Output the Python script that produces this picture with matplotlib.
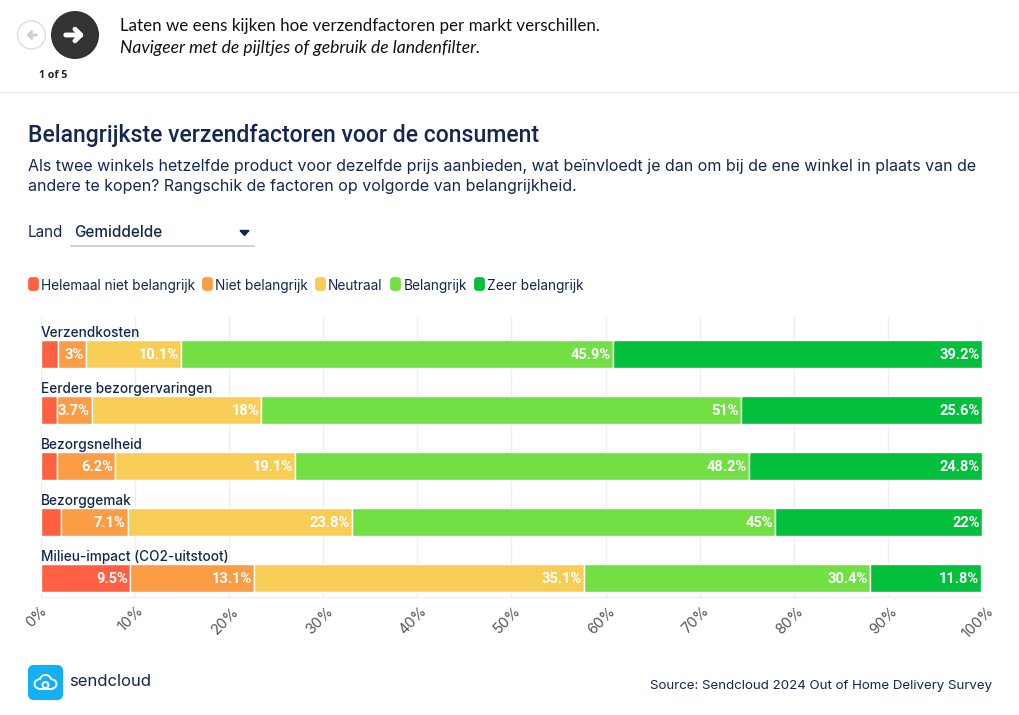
#!/usr/bin/env python3
import matplotlib
matplotlib.use('Agg')
import matplotlib.pyplot as plt
from matplotlib.patches import Arc, Circle, FancyBboxPatch
from matplotlib.transforms import ScaledTranslation
import numpy as np

categories = ['Verzendkosten', 'Eerdere bezorgervaringen', 'Bezorgsnelheid',
              'Bezorggemak', 'Milieu-impact (CO2-uitstoot)']
series_names = ['Helemaal niet belangrijk', 'Niet belangrijk', 'Neutraal',
                'Belangrijk', 'Zeer belangrijk']
helemaal_niet = [1.8, 1.7, 1.7, 2.1, 9.5]
niet = [3, 3.7, 6.2, 7.1, 13.1]
neutraal = [10.1, 18, 19.1, 23.8, 35.1]
belangrijk = [45.9, 51, 48.2, 45, 30.4]
zeer = [39.2, 25.6, 24.8, 22, 11.8]
x_ticks = [0, 10, 20, 30, 40, 50, 60, 70, 80, 90, 100]

colors = ['#ff6041', '#fb9d45', '#f8cd56', '#72e044', '#03c03c']
NAVY = '#14284f'
W, H = 1020, 715

fig = plt.figure(figsize=(W / 100, H / 100), dpi=100, facecolor='white')

# page furniture, drawn in pixel coordinates
bg = fig.add_axes([0, 0, 1, 1])
bg.set_xlim(0, W)
bg.set_ylim(H, 0)
bg.axis('off')

bg.add_patch(Circle((31.5, 35), 14, fc='white', ec='#dddddd', lw=1))
bg.annotate('', xy=(23.5, 35), xytext=(39, 35),
            arrowprops=dict(arrowstyle='->,head_width=0.24,head_length=0.24', color='#d0d0d0', lw=2.2))
bg.add_patch(Circle((75, 35), 24, fc='#333333', ec='none'))
bg.annotate('', xy=(87, 35), xytext=(63, 35),
            arrowprops=dict(arrowstyle='->,head_width=0.42,head_length=0.42', color='white', lw=3.5))
bg.text(53, 75.5, '1 of 5', fontsize=7.6, fontweight='bold', family='Open Sans',
        color='#222222', ha='center', va='center')
bg.text(120, 26, 'Laten we eens kijken hoe verzendfactoren per markt verschillen.', fontsize=12.15,
        family='Lato', color='#111111', va='center')
bg.text(120, 48.5, 'Navigeer met de pijltjes of gebruik de landenfilter.', fontsize=12.65,
        family='Lato', style='italic', color='#111111', va='center')
bg.plot([0, W], [91.5, 91.5], color='#eeeeee', lw=1)

bg.text(28, 135, 'Belangrijkste verzendfactoren voor de consument', fontsize=16.55,
        family='Roboto', fontweight='medium', color=NAVY, va='center')
bg.text(28, 166, 'Als twee winkels hetzelfde product voor dezelfde prijs aanbieden, wat beïnvloedt je dan om bij de '
        'ene winkel in plaats van de', fontsize=11.53, family='Inter', color=NAVY, va='center')
bg.text(28, 186, 'andere te kopen? Rangschik de factoren op volgorde van belangrijkheid.', fontsize=11.53,
        family='Inter', color=NAVY, va='center')

bg.text(28, 232.5, 'Land', fontsize=11, family='Inter', color=NAVY, va='center')
bg.text(74, 232.5, 'Gemiddelde', fontsize=11, family='Inter', fontweight='medium', color=NAVY, va='center')
bg.fill([240, 249, 244.5], [230.5, 230.5, 235.5], color=NAVY)
bg.plot([71, 254], [245.5, 245.5], color='#c5cad4', lw=1.2)

# legend
legend_swatch_x = [28, 202, 315, 390, 474]
legend_text_x = [41, 215, 328, 404, 487]
for name, c, sx, tx in zip(series_names, colors, legend_swatch_x, legend_text_x):
    bg.add_patch(FancyBboxPatch((sx + 1.5, 278.5), 8, 11, boxstyle='round,pad=0,rounding_size=2',
                                fc=c, ec=c, lw=2))
    bg.text(tx, 286, name, fontsize=9.85, family='Inter', color=NAVY, va='center')

# logo and source
bg.add_patch(FancyBboxPatch((30, 667), 31, 31, boxstyle='round,pad=0,rounding_size=4',
                            fc='#14b0f5', ec='#14b0f5', lw=3))
cloud = dict(color='white', lw=1.4)
bg.add_patch(Arc((39, 684), 9, 9, theta1=90, theta2=270, **cloud))
bg.add_patch(Arc((45.5, 681), 12, 12, theta1=190, theta2=350, **cloud))
bg.add_patch(Arc((52, 684), 9, 9, theta1=-90, theta2=90, **cloud))
bg.plot([39, 52], [688.5, 688.5], **cloud)
bg.add_patch(Arc((45.5, 685), 6, 6, theta1=0, theta2=360, **cloud))
bg.text(69, 682, 'sendcloud', fontsize=12, family='Inter', color=NAVY, va='center')
bg.text(992, 686, 'Source: Sendcloud 2024 Out of Home Delivery Survey', fontsize=9.58, family='Inter',
        color=NAVY, ha='right', va='center')

# chart
ax = fig.add_axes([41 / W, 1 - 597 / H, (982 - 41) / W, (597 - 317) / H])
ax.patch.set_alpha(0)
rows = np.arange(len(categories))
stack = [helemaal_niet, niet, neutraal, belangrijk, zeer]
left = np.zeros(len(categories))
for values, c in zip(stack, colors):
    bars = ax.barh(rows, values, left=left, height=0.51, color=c, edgecolor='white', linewidth=1, zorder=2)
    for rect, v in zip(bars, values):
        if v < 2.5:  # the original hides labels on the thin segments
            continue
        ax.annotate(f'{v:g}%', (rect.get_x() + rect.get_width(), rect.get_y() + rect.get_height() / 2),
                    xytext=(-1.5, -0.5), textcoords='offset points', ha='right', va='center',
                    color='white', fontsize=10.5, family='Roboto', fontweight='bold', zorder=3)
    left += np.array(values)

for i, name in enumerate(categories):
    ax.text(0, i - 0.25, name, fontsize=9.8, family='Inter', fontweight='medium', color=NAVY,
            ha='left', va='bottom', zorder=3)

ax.set_xlim(0, 100)
ax.set_ylim(4.34, -0.66)
ax.set_yticks([])
ax.set_xticks(x_ticks)
ax.set_xticklabels([f'{t}%' for t in x_ticks], rotation=45, ha='center', fontsize=10.5,
                   family='Inter', color='#555555')
ax.tick_params(axis='x', length=0, pad=5)
ax.grid(axis='x', color='#eeeeee', lw=1, zorder=0)
ax.set_axisbelow(True)
for side in ['top', 'left', 'right']:
    ax.spines[side].set_visible(False)
ax.spines['bottom'].set_color('#eeeeee')

# nudge the slanted tick labels left, as in the reference
for lab in ax.get_xticklabels():
    lab.set_transform(lab.get_transform() + ScaledTranslation(-4 / 100, 0, fig.dpi_scale_trans))

fig.savefig('out.png', dpi=100)
